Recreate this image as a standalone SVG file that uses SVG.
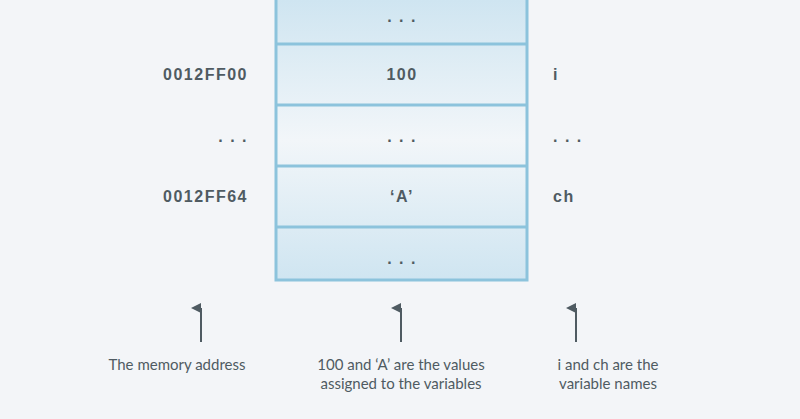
<svg xmlns="http://www.w3.org/2000/svg" width="800" height="419" viewBox="0 0 800 419">
<defs>
<linearGradient id="g" x1="0" y1="0" x2="0" y2="280" gradientUnits="userSpaceOnUse">
<stop offset="0" stop-color="#cfe5f1"/>
<stop offset="0.5" stop-color="#f2f6f9"/>
<stop offset="1" stop-color="#cfe5f1"/>
</linearGradient>
<marker id="ah" viewBox="0 0 10 10" refX="5" refY="10" markerWidth="10" markerHeight="10" markerUnits="userSpaceOnUse" orient="auto-start-reverse">
<path d="M0,10 L5,0 L10,10 Z" fill="#4f5b62"/>
</marker>
</defs>
<style>
.b{font-family:"Liberation Sans",Arial,sans-serif;font-weight:bold;font-size:16px;fill:#4f5b62;letter-spacing:1.5px}
.l{font-family:Lato,"Open Sans",sans-serif;font-size:15px;fill:#4f5b62}
.c{fill:none;stroke:#8cc3dc;stroke-width:3}
</style>
<rect width="800" height="419" fill="#f3f5f8"/>
<g id="column">
<rect x="276" y="-5" width="251" height="285" fill="url(#g)"/>
<rect x="276" y="-5" width="251" height="285" class="c"/>
<line x1="276" y1="44" x2="527" y2="44" class="c"/>
<line x1="276" y1="105" x2="527" y2="105" class="c"/>
<line x1="276" y1="166" x2="527" y2="166" class="c"/>
<line x1="276" y1="227" x2="527" y2="227" class="c"/>
</g>
<g id="cells" text-anchor="middle">
<text class="b" x="402" y="22">. . .</text>
<text class="b" x="402" y="80">100</text>
<text class="b" x="402" y="142">. . .</text>
<text class="b" x="402" y="202">‘A’</text>
<text class="b" x="402" y="264">. . .</text>
</g>
<g id="addresses" text-anchor="end">
<text class="b" x="248" y="80">0012FF00</text>
<text class="b" x="248" y="142">. . .</text>
<text class="b" x="248" y="202">0012FF64</text>
</g>
<g id="names">
<text class="b" x="553" y="80">i</text>
<text class="b" x="553" y="142">. . .</text>
<text class="b" x="553" y="202">ch</text>
</g>
<g id="connectors" stroke="#4f5b62" stroke-width="2">
<line x1="201" y1="342" x2="201" y2="308" marker-end="url(#ah)"/>
<line x1="401" y1="342" x2="401" y2="308" marker-end="url(#ah)"/>
<line x1="576" y1="342" x2="576" y2="308" marker-end="url(#ah)"/>
</g>
<g id="labels" text-anchor="middle">
<text class="l" x="177" y="370">The memory address</text>
<text class="l" x="401" y="370">100 and ‘A’ are the values</text>
<text class="l" x="401" y="389">assigned to the variables</text>
<text class="l" x="608" y="370">i and ch are the</text>
<text class="l" x="608" y="389">variable names</text>
</g>
</svg>
